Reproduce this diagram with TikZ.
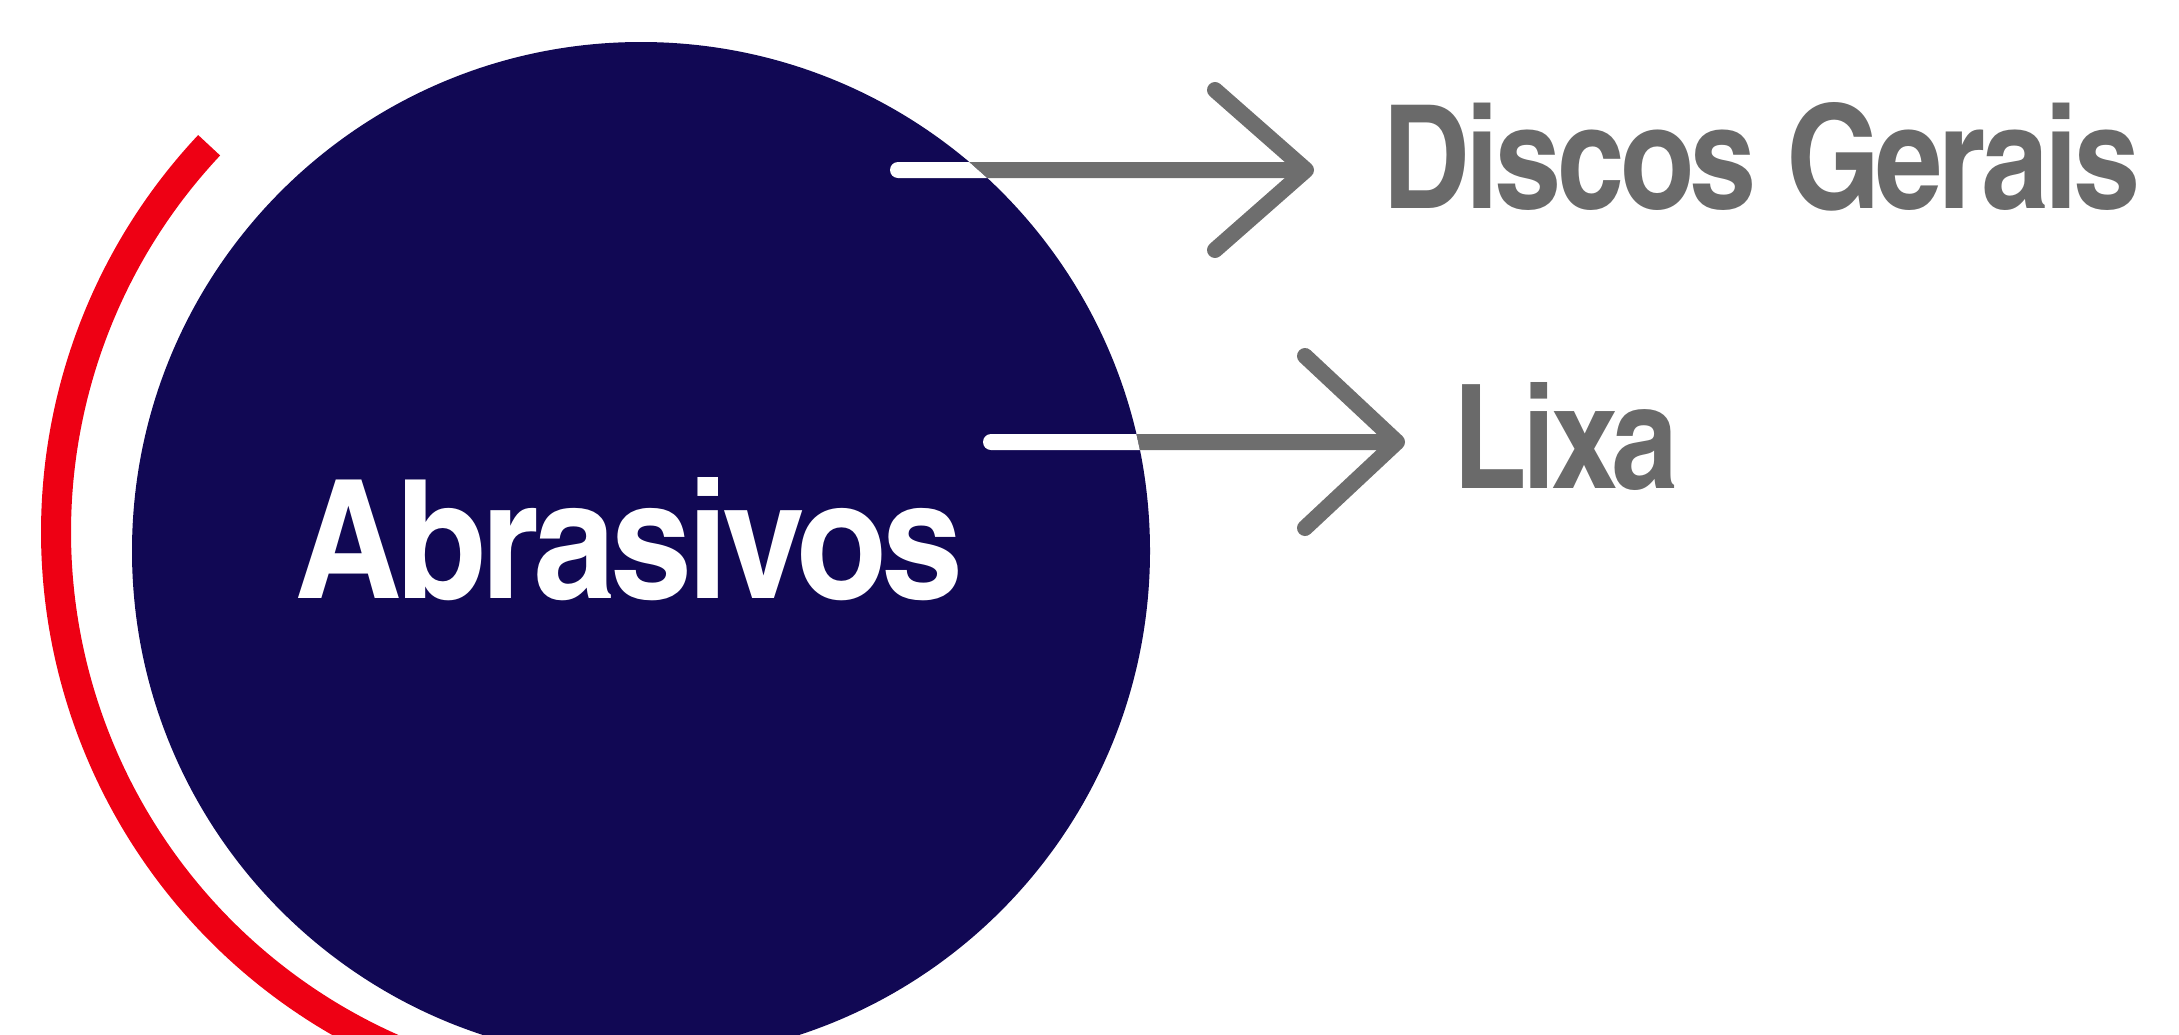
\documentclass[tikz,border=0pt]{standalone}
\usepackage{fontspec}
\setmainfont{TeX Gyre Heros}
\newfontfamily\cnfont[Extension=.otf, LetterSpace=-3]{texgyreheroscn-bold}
\usetikzlibrary{calc}
\definecolor{navy}{RGB}{17,8,84}
\definecolor{redarc}{RGB}{238,0,20}
\definecolor{greyline}{RGB}{110,110,110}
\definecolor{greytext}{RGB}{106,106,106}
\begin{document}
\begin{tikzpicture}[x=1pt,y=-1pt,
  arrowline/.style={line width=16pt, draw=greyline, line cap=round, line join=round},
  lbl/.style={inner sep=0pt, anchor=base west, text=greytext}]
\useasboundingbox (0,0) rectangle (2179,1034);
% red arc
\draw[redarc, line width=30pt] ([shift={(136.8:565pt)}]621,532) arc[start angle=136.8, end angle=250, radius=565pt];
% hub circle
\node[circle, fill=navy, minimum size=1018pt, inner sep=0pt] (hub) at (641,551) {};
\node[inner sep=0pt, anchor=base west, text=white] (abr) at (295,598)
  {\resizebox{667pt}{121pt}{\cnfont Abrasivos}};
% labels
\node[lbl] (discos) at (1382,208) {\resizebox{758pt}{106pt}{\cnfont Discos Gerais}};
\node[lbl] (lixa) at (1453,488) {\resizebox{225pt}{106pt}{\cnfont Lixa}};
% connector ends
\coordinate (s1) at (898,170);
\coordinate (e1) at (978.5,170);  % where the shaft leaves the circle
\coordinate (t1) at (1306,170);
\coordinate (s2) at (991,442);
\coordinate (e2) at (1138.2,442);
\coordinate (t2) at (1397,442);
% connector 1: white inside the circle, grey outside
\fill[white] (s1) circle[radius=8pt];
\fill[white] ($(s1)+(0,-8)$) -- ($(e1)+(-9.2,-8)$) -- ($(e1)+(8.8,8)$) -- ($(s1)+(0,8)$) -- cycle;
\fill[greyline] ($(e1)+(-9.2,-8)$) -- ($(t1)+(0,-8)$) -- ($(t1)+(0,8)$) -- ($(e1)+(8.8,8)$) -- cycle;
\draw[arrowline] ($(t1)+(-91,-80)$) -- (t1) -- ($(t1)+(-91,80)$);
% connector 2
\fill[white] (s2) circle[radius=8pt];
\fill[white] ($(s2)+(0,-8)$) -- ($(e2)+(-1.8,-8)$) -- ($(e2)+(1.7,8)$) -- ($(s2)+(0,8)$) -- cycle;
\fill[greyline] ($(e2)+(-1.8,-8)$) -- ($(t2)+(0,-8)$) -- ($(t2)+(0,8)$) -- ($(e2)+(1.7,8)$) -- cycle;
\draw[arrowline] ($(t2)+(-92,-86)$) -- (t2) -- ($(t2)+(-92,86)$);
\end{tikzpicture}
\end{document}
